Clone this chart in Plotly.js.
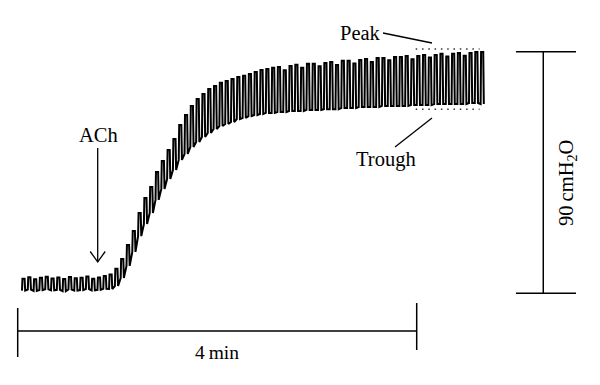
<!DOCTYPE html>
<html><head><meta charset="utf-8">
<script src="https://cdn.plot.ly/plotly-3.0.1.min.js"></script>
<style>html,body{margin:0;padding:0;background:#fff}#chart{width:600px;height:385px}</style>
</head><body><div id="chart"></div>
<script>
// ---- data (time in min, pressure in cmH2O) ----
const traceStartMin = 0.043;
const breathPeriodMin = 0.0582;
const peakPressure = [
  5.4, 6.0, 5.2, 5.8, 6.2, 5.5, 5.9, 5.3, 6.1, 5.6, 5.8, 6.3, 5.4, 5.9, 6.4,
  7.0, 9.1, 12.8, 18.0, 23.2, 29.9, 35.5, 39.6, 45.2, 49.3, 53.4, 57.5, 62.7, 66.4, 69.8,
  72.4, 74.2, 76.1, 77.2, 78.4, 79.1, 79.8, 80.6, 81.0, 81.7, 82.4, 83.2, 83.6, 84.0, 84.3,
  83.1, 84.7, 85.1, 84.0, 85.5, 85.5, 84.6, 85.8, 86.2, 85.0, 86.6, 86.6, 85.6, 86.9, 87.3,
  86.2, 87.7, 87.7, 86.8, 88.0, 88.0, 88.4, 87.2, 88.4, 88.8, 87.8, 88.8, 89.2, 88.2, 89.2,
  89.5, 88.5, 89.5, 89.9, 89.9
];
const troughPressure = [
  1.0, 1.4, 0.9, 1.2, 1.5, 1.1, 1.3, 0.8, 1.4, 1.0, 1.2, 1.6, 1.1, 1.3, 1.7,
  1.6, 2.7, 5.7, 10.2, 15.4, 21.3, 25.8, 29.9, 34.8, 38.9, 42.6, 45.9, 49.7, 51.9, 54.5,
  56.4, 58.2, 59.7, 61.2, 62.3, 63.1, 63.8, 64.9, 65.3, 66.0, 66.4, 66.8, 67.2, 67.2, 67.5,
  67.5, 67.9, 67.9, 67.9, 68.3, 68.3, 68.3, 68.6, 68.6, 68.6, 69.0, 69.0, 69.0, 69.4, 69.4,
  69.4, 69.4, 69.8, 69.8, 69.8, 69.8, 69.8, 70.1, 70.1, 70.1, 70.1, 70.5, 70.5, 70.5, 70.5,
  70.5, 70.5, 70.9, 70.9, 70.5
];
const peakLevel = 91.0;
const troughLevel = 68.6;
const levelLineStartMin = 3.99;
const levelLineEndMin = 4.63;
const timeBarMin = 4;
const pressureBarCmH2O = 90;
const labels = {ach: "ACh", peak: "Peak", trough: "Trough", time: "4\u2009min", pressure: "90\u2009cmH<sub>2</sub>O"};

// ---- build the trace from the per-breath values ----
const xs = [], ys = [];
for (let i = 0; i < peakPressure.length; i++) {
  const t = traceStartMin + i * breathPeriodMin, p = breathPeriodMin;
  xs.push(t, t + 0.08 * p, t + 0.45 * p, t + 0.55 * p);
  ys.push(troughPressure[i], peakPressure[i], peakPressure[i], troughPressure[i]);
}

// ---- layout helpers (pixel -> paper) ----
const W = 600, H = 385;
const PX = v => v / W, PY = v => 1 - v / H;
const XMIN = -0.1774, XMAX = 5.8376, YMIN = -34.16, YMAX = 109.26;
const SERIF = "Liberation Serif, 'DejaVu Serif', serif";
const FONT = {family: SERIF, size: 20.5, color: "#000"};
const blk = {color: "#000", width: 1.5};

const shapes = [
  // horizontal time scale bar
  {type: "line", xref: "x", yref: "y", x0: 0, x1: timeBarMin, y0: -14.04, y1: -14.04, line: blk},
  {type: "line", xref: "x", yref: "y", x0: 0, x1: 0, y0: -5.48, y1: -23.73, line: blk},
  {type: "line", xref: "x", yref: "y", x0: timeBarMin, x1: timeBarMin, y0: -3.61, y1: -21.12, line: blk},
  // vertical pressure scale bar
  {type: "line", xref: "x", yref: "y", x0: 5.269, x1: 5.269, y0: 0, y1: pressureBarCmH2O, line: blk},
  {type: "line", xref: "x", yref: "y", x0: 4.995, x1: 5.597, y0: 0, y1: 0, line: blk},
  {type: "line", xref: "x", yref: "y", x0: 4.995, x1: 5.597, y0: pressureBarCmH2O, y1: pressureBarCmH2O, line: blk},
  // peak / trough dotted levels
  {type: "line", xref: "x", yref: "y", x0: levelLineStartMin, x1: levelLineEndMin, y0: peakLevel, y1: peakLevel,
   line: {color: "#333", width: 1.5, dash: "1.5px,4.8px"}},
  {type: "line", xref: "x", yref: "y", x0: levelLineStartMin, x1: levelLineEndMin, y0: troughLevel, y1: troughLevel,
   line: {color: "#333", width: 1.5, dash: "1.5px,4.8px"}},
  // leader lines
  {type: "line", xref: "paper", yref: "paper", x0: PX(383), y0: PY(33), x1: PX(432), y1: PY(43), line: {color: "#000", width: 1.3}},
  {type: "line", xref: "paper", yref: "paper", x0: PX(432), y0: PY(118), x1: PX(395), y1: PY(147), line: {color: "#000", width: 1.3}},
  // ACh arrow
  {type: "line", xref: "paper", yref: "paper", x0: PX(97.7), y0: PY(148), x1: PX(97.7), y1: PY(262), line: {color: "#000", width: 1.3}},
  {type: "path", xref: "paper", yref: "paper",
   path: `M ${PX(90.2)} ${PY(251.5)} L ${PX(97.7)} ${PY(262)} L ${PX(105.2)} ${PY(251.5)}`,
   line: {color: "#000", width: 1.3}}
];

const ann = (text, x, y, extra) => Object.assign({text, x: PX(x), y: PY(y), xref: "paper", yref: "paper",
  showarrow: false, xanchor: "center", yanchor: "middle", font: FONT}, extra || {});
const annotations = [
  ann(labels.ach, 98, 135),
  ann(labels.peak, 360, 33),
  ann(labels.trough, 386, 159),
  ann(labels.time, 217, 352, {font: {family: SERIF, size: 19.5, color: "#000"}}),
  ann(labels.pressure, 567, 183, {textangle: -90})
];

Plotly.newPlot("chart", [{
  x: xs, y: ys, type: "scatter", mode: "lines", line: {color: "#000", width: 2}, hoverinfo: "skip"
}], {
  width: W, height: H, margin: {l: 0, r: 0, t: 0, b: 0},
  paper_bgcolor: "#fff", plot_bgcolor: "#fff", showlegend: false,
  xaxis: {range: [XMIN, XMAX], visible: false, fixedrange: true},
  yaxis: {range: [YMIN, YMAX], visible: false, fixedrange: true},
  shapes, annotations
}, {displayModeBar: false, staticPlot: true});
</script></body></html>
